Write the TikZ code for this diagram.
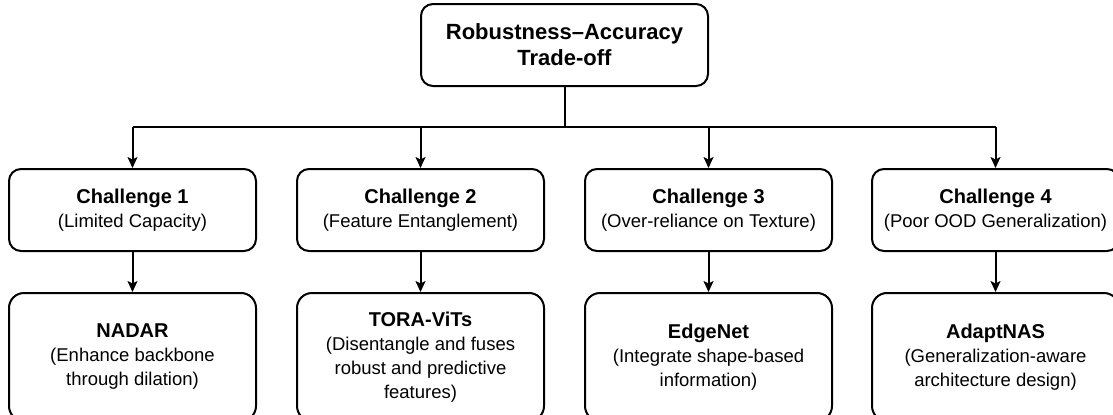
\documentclass[tikz,border=0pt]{standalone}
\usepackage{fontspec}
\setmainfont{Liberation Sans}
\usetikzlibrary{arrows.meta}

\begin{document}
\begin{tikzpicture}[x=0.5pt,y=-0.5pt,
  box/.style={draw, line width=1pt, inner sep=0pt, align=center,
    font=\fontsize{9.25}{12}\selectfont},
  topbox/.style={box, rounded corners=6pt, minimum width=143.5pt, minimum height=41pt,
    font=\fontsize{11}{13}\selectfont\bfseries},
  challengebox/.style={box, rounded corners=6pt, minimum width=123.5pt, minimum height=41pt},
  methodbox/.style={box, rounded corners=7.5pt, minimum width=123.5pt, minimum height=64pt},
  link/.style={line width=1pt},
  arrowlink/.style={link, -{Stealth[length=5.5pt,width=5pt,inset=1.2pt]}},
]
\useasboundingbox (0,0) rectangle (1113,414);

% root of the tree
\node[topbox] (root) at (564.5,45) {Robustness–Accuracy\\Trade-off};

% challenges
\newcommand{\headline}[1]{{\fontsize{10}{12}\selectfont\bfseries #1}}
\node[challengebox] (c1) at (132.5,210) {\headline{Challenge 1}\\(Limited Capacity)};
\node[challengebox] (c2) at (420.5,210) {\headline{Challenge 2}\\(Feature Entanglement)};
\node[challengebox] (c3) at (708.5,210) {\headline{Challenge 3}\\(Over-reliance on Texture)};
\node[challengebox] (c4) at (995.5,210) {\headline{Challenge 4}\\(Poor OOD Generalization)};

% methods
\node[methodbox] (m1) at (132.5,357) {\headline{NADAR}\\(Enhance backbone\\through dilation)};
\node[methodbox] (m2) at (420.5,357) {\headline{TORA-ViTs}\\(Disentangle and fuses\\robust and predictive\\features)};
\node[methodbox] (m3) at (708.5,357) {\headline{EdgeNet}\\(Integrate shape-based\\information)};
\node[methodbox] (m4) at (995.5,357) {\headline{AdaptNAS}\\(Generalization-aware\\architecture design)};

% distribution bus
\coordinate (bus) at (564.5,127);
\draw[link] (root.south) -- (bus);
\draw[link] (c1.north |- bus) -- (c4.north |- bus);
\foreach \i in {1,2,3,4}{
  \draw[arrowlink] (c\i.north |- bus) -- (c\i.north);
  \draw[arrowlink] (c\i.south) -- (m\i.north);
}
\end{tikzpicture}
\end{document}
